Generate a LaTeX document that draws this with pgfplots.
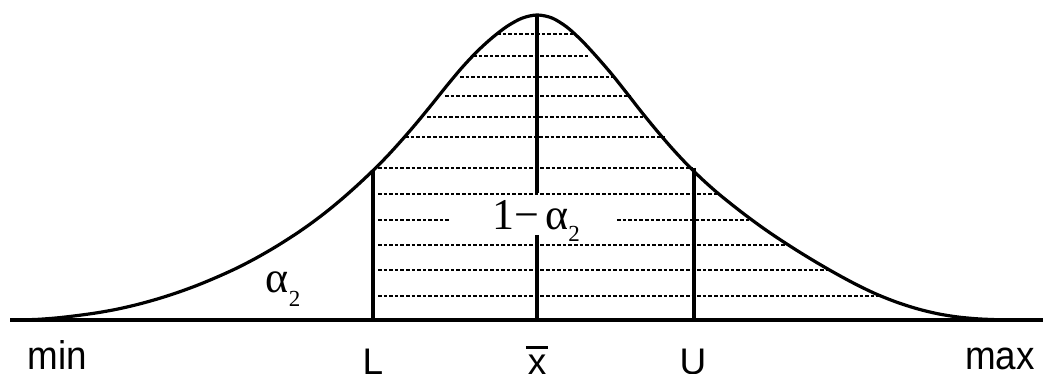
\documentclass[border=0pt]{standalone}
\usepackage{pgfplots}
\pgfplotsset{compat=1.18}
\usepackage{fontspec}
\setmainfont{Liberation Sans}
\newfontfamily\serifgreek{Liberation Serif}

% range labels (min, max) and the marked points (L, mean, U)
\newcommand{\rangelbl}[1]{\scalebox{0.92}[1]{\fontsize{20pt}{20pt}\selectfont #1}}
\newcommand{\ptlbl}[1]{{\fontsize{18.5pt}{18.5pt}\selectfont #1}}
\newcommand{\xbar}{\leavevmode\rlap{\hspace{-0.05em}\rule[0.68em]{0.6em}{0.065em}}x}
\newcommand{\alphatwo}[1]{{\serifgreek\fontsize{22pt}{22pt}\selectfont α\raisebox{-#1}{\fontsize{11.5pt}{11.5pt}\selectfont 2}}}

\begin{document}
\begin{tikzpicture}
\path[use as bounding box] (0,0) rectangle (521.5pt,187pt);
\begin{axis}[
  at={(0,0)}, anchor=south west,
  scale only axis, width=521.5pt, height=187pt,
  xmin=0, xmax=1043, ymin=0, ymax=374, y dir=reverse,
  hide axis, clip=false,
]
% dashed hatching inside the 1 - alpha region
\addplot[black, line width=1.0pt, dash pattern=on 1.8pt off 1.0pt] table[empty line=jump] {
x y
497 34
575 34

473 56
588 56

460 77
613 77

445 96
630 96

427 117
645 117

405 137
665 137

378 168
692 168

378 194
719 194

378 220
450 220

617 220
752 220

378 245
788 245

378 270
830 270

378 296
881 296
};

% base line
\addplot[black, line width=1.6pt] coordinates {(10,320) (1043,320)};

% density curve
\addplot[black, line width=1.6pt, smooth, tension=0.5] coordinates {
(17,320) (37,319.4) (57,317.9) (77,315.6) (97,312.8) (117,309.2)
(137,304.6) (157,299.1) (177,292.7) (197,285.4) (217,277.1) (237,268.0)
(257,257.6) (277,246.0) (297,233.2) (312,222.7) (327,211.3) (342,198.9)
(357,185.6) (372,171.5) (387,156.4) (402,139.9) (417,122.5) (432,104.2)
(447,85.5) (462,67.6) (477,51.6) (492,37.9) (507,26.4) (522,18.2)
(537,15.0)
(552,18.0) (567,27.2) (582,40.9) (597,57.1) (612,74.5) (627,93.4)
(642,112.6) (657,130.9) (672,148.3) (687,164.4) (702,179.1) (717,192.5)
(732,204.7) (747,216.3) (762,227.3) (777,237.6) (797,250.5) (817,262.7)
(837,274.2) (857,284.9) (877,294.4) (897,302.3) (917,308.7) (937,313.6)
(957,316.9) (977,318.8) (997,319.7) (1012,320)
};

% limits L and U, and the mean
\addplot[black, line width=1.7pt] coordinates {(373,171) (373,320)};
\addplot[black, line width=1.7pt] coordinates {(694,168) (694,320)};
\addplot[black, line width=1.7pt] coordinates {(537,15) (537,193)};
\addplot[black, line width=1.7pt] coordinates {(537,235) (537,320)};

% labels
\node[anchor=base] at (axis cs:536,230) {{\serifgreek\fontsize{22pt}{22pt}\selectfont 1−\hspace{0.15em}}\alphatwo{6pt}};
\node[anchor=base] at (axis cs:283,293) {\alphatwo{7pt}};

\node[anchor=base, inner sep=0pt] at (axis cs:57,369) {\rangelbl{min}};
\node[anchor=base, inner sep=0pt] at (axis cs:1000,369) {\rangelbl{max}};
\node[anchor=base, inner sep=0pt] at (axis cs:373,374) {\ptlbl{L}};
\node[anchor=base, inner sep=0pt] at (axis cs:537,374) {\ptlbl{\xbar}};
\node[anchor=base, inner sep=0pt] at (axis cs:693,374) {\ptlbl{U}};
\end{axis}
\end{tikzpicture}
\end{document}
